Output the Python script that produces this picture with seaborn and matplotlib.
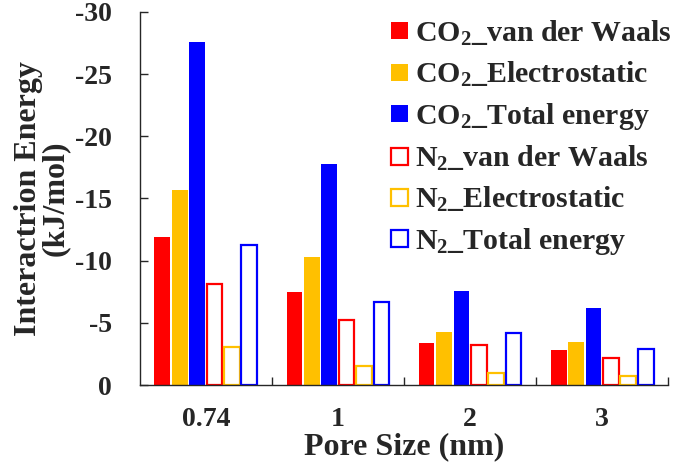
import matplotlib
matplotlib.use("Agg")
import matplotlib.pyplot as plt
import pandas as pd
import seaborn as sns

# ── Data ──────────────────────────────────────────────────────────────────────
pore_sizes = ["0.74", "1", "2", "3"]
series = [
    "CO$_2$_van der Waals",
    "CO$_2$_Electrostatic",
    "CO$_2$_Total energy",
    "N$_2$_van der Waals",
    "N$_2$_Electrostatic",
    "N$_2$_Total energy",
]
co2_vdw   = [-11.9, -7.5, -3.4, -2.8]
co2_elec  = [-15.7, -10.3, -4.3, -3.5]
co2_total = [-27.6, -17.8, -7.6, -6.2]
n2_vdw    = [-8.1, -5.2, -3.2, -2.2]
n2_elec   = [-3.1, -1.5, -1.0, -0.7]
n2_total  = [-11.3, -6.7, -4.2, -2.9]
colors = ["#FF0000", "#FFC000", "#0000FF", "#FF0000", "#FFC000", "#0000FF"]

values = [co2_vdw, co2_elec, co2_total, n2_vdw, n2_elec, n2_total]
df = pd.DataFrame(
    [(p, s, v) for s, vals in zip(series, values) for p, v in zip(pore_sizes, vals)],
    columns=["pore", "series", "energy"],
)

# ── Style ─────────────────────────────────────────────────────────────────────
sns.set_style("ticks")
plt.rcParams["font.family"] = ["Liberation Serif", "DejaVu Serif"]
plt.rcParams["font.weight"] = "bold"
plt.rcParams["mathtext.fontset"] = "custom"
plt.rcParams["mathtext.rm"] = "Liberation Serif:bold"
plt.rcParams["mathtext.it"] = "Liberation Serif:bold"
plt.rcParams["mathtext.bf"] = "Liberation Serif:bold"
plt.rcParams["axes.unicode_minus"] = False

fig = plt.figure(figsize=(6.75, 4.72), dpi=100)
ax = fig.add_axes([0.207, 0.184, 0.783, 0.791])

sns.barplot(
    data=df, x="pore", y="energy", hue="series",
    order=pore_sizes, hue_order=series, palette=colors,
    width=0.79, gap=0.1, errorbar=None, legend=False, ax=ax,
)

# open bars for N2 series
for i, (cont, c) in enumerate(zip(ax.containers, colors)):
    for bar in cont:
        if i >= 3:
            bar.set_facecolor("white")
            bar.set_edgecolor(c)
            bar.set_linewidth(1.6)
        else:
            bar.set_facecolor(c)
            bar.set_linewidth(0)

ax.set_ylim(0, -30)
ax.set_yticks([0, -5, -10, -15, -20, -25, -30])
ax.set_xlim(-0.5, 3.5)
ax.set_xticks([0.5, 1.5, 2.5, 3.5], minor=True)

for s in ["top", "right"]:
    ax.spines[s].set_visible(False)
for s in ["left", "bottom"]:
    ax.spines[s].set_linewidth(1.0)

ax.tick_params(axis="y", direction="in", length=6, width=1, pad=20, labelsize=20)
ax.tick_params(axis="x", which="major", length=0, pad=16, labelsize=20)
ax.tick_params(axis="x", which="minor", direction="in", length=6, width=1)

ax.set_xlabel("Pore Size (nm)", fontsize=23, fontweight="bold", labelpad=0)
ax.set_ylabel("Interactrion Energy\n(kJ/mol)", fontsize=23, fontweight="bold",
              linespacing=0.9, labelpad=4)

ax.legend(
    handles=ax.containers, labels=series, loc="upper right",
    bbox_to_anchor=(1.04, 1.03), frameon=False, fontsize=21.5,
    handlelength=0.57, handleheight=0.5, handletextpad=0.23,
    labelspacing=0.4, borderaxespad=0.2,
)

plt.savefig("out.png", dpi=100)
plt.close()
